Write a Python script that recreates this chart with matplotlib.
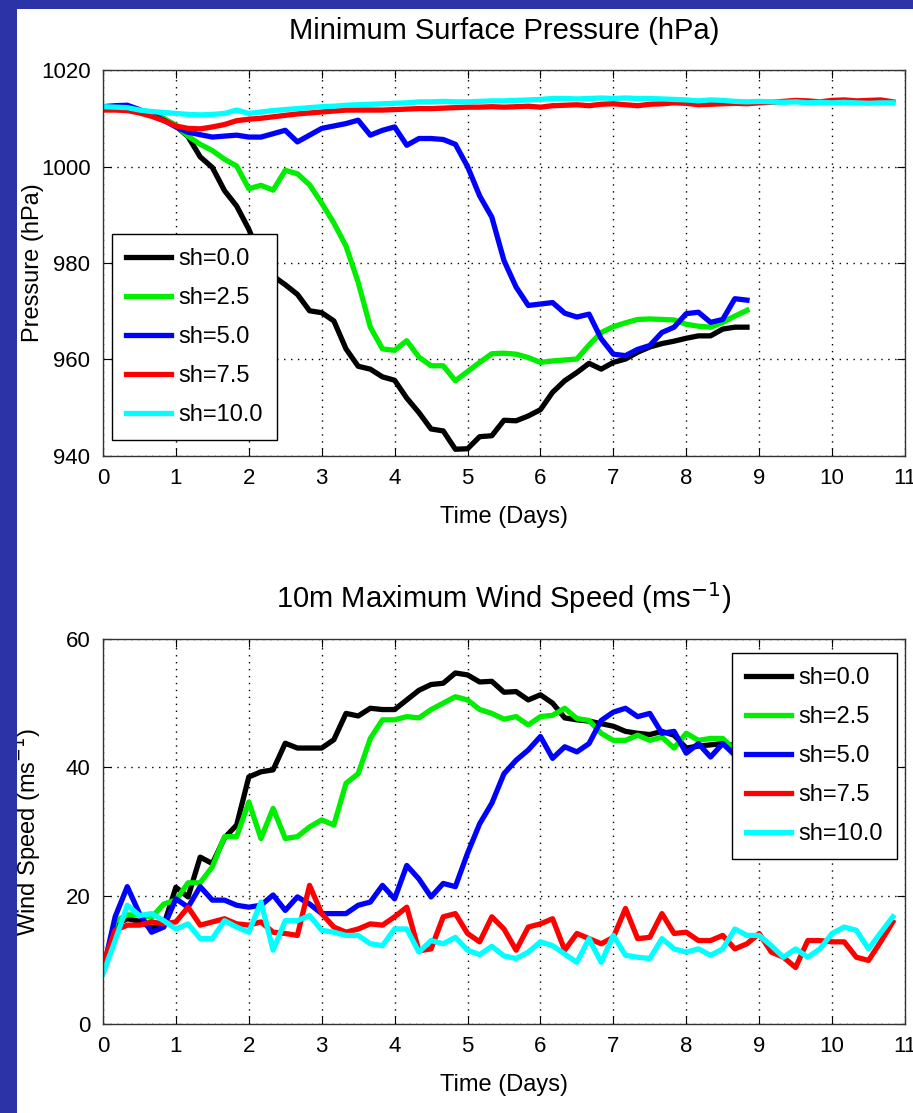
import matplotlib
matplotlib.use("Agg")
import matplotlib.pyplot as plt
import matplotlib.patches as patches
import numpy as np

plt.rcParams['font.family'] = ['Liberation Sans Narrow', 'Liberation Sans', 'DejaVu Sans']

# output every 4 hours (1/6 day)
STEP_DAYS = 1.0 / 6.0

labels = ["sh=0.0", "sh=2.5", "sh=5.0", "sh=7.5", "sh=10.0"]
colors = ["#000000", "#00ee00", "#0000ff", "#ff0000", "#00ffff"]

# minimum surface pressure (hPa)
p_sh00 = [1012, 1012, 1012, 1011.5, 1010.8, 1009.9, 1008.4, 1006.2, 1002, 999.8,
          995, 991.8, 987, 981, 977.3, 975.5, 973.5, 970.1, 969.7, 968,
          962.2, 958.6, 958, 956.4, 955.7, 952, 949, 945.6, 945.2, 941.4,
          941.5, 944, 944.2, 947.4, 947.3, 948.3, 949.6, 953.2, 955.6, 957.3,
          959.2, 958, 959.4, 960.1, 961.5, 962.6, 963.3, 963.8, 964.4, 964.9,
          964.9, 966.3, 966.7, 966.7]
p_sh25 = [1012, 1012, 1012, 1011.5, 1010.8, 1009.9, 1008.6, 1006.3, 1004.6, 1003.3,
          1001.5, 1000.1, 995.4, 996.1, 995.1, 999.2, 998.5, 996.2, 992.4, 988.3,
          983.5, 976, 966.7, 962.2, 961.9, 963.9, 960.5, 958.7, 958.7, 955.6,
          957.5, 959.4, 961.2, 961.3, 961.1, 960.4, 959.4, 959.7, 959.9, 960.1,
          963, 965.6, 966.8, 967.6, 968.3, 968.4, 968.3, 968.2, 967.3, 966.9,
          966.7, 967.7, 969, 970.2]
p_sh50 = [1012.4, 1012.6, 1012.7, 1011.8, 1010.7, 1009.6, 1008.2, 1007.1, 1006.6, 1006.1,
          1006.3, 1006.5, 1006.1, 1006.1, 1006.8, 1007.5, 1005.1, 1006.5, 1007.9, 1008.4,
          1008.9, 1009.6, 1006.5, 1007.5, 1008.2, 1004.4, 1005.8, 1005.8, 1005.6, 1004.6,
          1000, 993.9, 989.5, 980.5, 975, 971.2, 971.5, 971.8, 969.6, 968.8,
          969.4, 964.3, 961.1, 960.8, 962.1, 962.9, 965.6, 966.7, 969.5, 969.8,
          967.7, 968.3, 972.6, 972.3]
p_sh75 = [1011.7, 1011.7, 1011.6, 1011.1, 1010.4, 1009.5, 1008.4, 1007.9, 1007.8, 1008.2,
          1008.7, 1009.5, 1009.8, 1010, 1010.3, 1010.6, 1010.9, 1011.1, 1011.3, 1011.5,
          1011.7, 1011.7, 1011.7, 1011.7, 1011.8, 1011.9, 1012, 1012, 1012.1, 1012.2,
          1012.3, 1012.3, 1012.4, 1012.3, 1012.4, 1012.5, 1012.3, 1012.6, 1012.7, 1012.8,
          1012.6, 1012.9, 1013, 1012.8, 1012.6, 1012.9, 1013, 1013.2, 1013.1, 1012.8,
          1012.9, 1013, 1013.1, 1013, 1013.2, 1013.3, 1013.5, 1013.7, 1013.6, 1013.4,
          1013.7, 1013.8, 1013.6, 1013.7, 1013.8, 1013.4]
p_sh100 = [1012.4, 1012.3, 1012.2, 1011.7, 1011.4, 1011.2, 1011, 1010.8, 1010.7, 1010.8,
           1011, 1011.7, 1011, 1011.3, 1011.6, 1011.8, 1012, 1012.2, 1012.4, 1012.5,
           1012.7, 1012.8, 1012.9, 1013, 1013.1, 1013.2, 1013.4, 1013.4, 1013.5, 1013.4,
           1013.4, 1013.5, 1013.6, 1013.6, 1013.7, 1013.8, 1013.9, 1014.1, 1014.1, 1014,
           1014.1, 1014.2, 1014.1, 1014.2, 1014.1, 1014.1, 1014, 1013.9, 1013.8, 1013.6,
           1013.8, 1013.7, 1013.5, 1013.4, 1013.5, 1013.4, 1013.3, 1013.4, 1013.2, 1013.3,
           1013.2, 1013.3, 1013.2, 1013.1, 1013.2, 1013.2]

# 10 m maximum wind speed (m/s)
w_sh00 = [8.5, 15.4, 16.4, 16, 15, 15.4, 21.3, 19.8, 26, 25,
          29, 31, 38.5, 39.3, 39.6, 43.75, 43, 43, 43, 44.3,
          48.4, 48, 49.2, 49, 49, 50.5, 52, 52.9, 53.1, 54.7,
          54.4, 53.3, 53.4, 51.7, 51.8, 50.5, 51.3, 50, 47.7, 47.4,
          47.2, 46.8, 46.4, 45.6, 45.3, 45.1, 45.6, 45, 43, 43.3,
          43.5, 43.7, 43.4, 42.7]
w_sh25 = [8, 16, 17, 17, 16.6, 18.7, 19.3, 22, 22, 24.5,
          29.2, 29.2, 34.6, 28.9, 33.6, 28.9, 29.2, 30.7, 31.8, 31,
          37.5, 39, 44.5, 47.4, 47.4, 47.9, 47.7, 49, 50, 51,
          50.5, 49, 48.4, 47.5, 47.9, 46.6, 47.9, 48.1, 49.2, 47.6,
          47.3, 45.3, 44.2, 44.2, 45, 44.2, 44.7, 43, 45.3, 44.2,
          44.5, 44.5, 42.7, 41.1]
w_sh50 = [8.3, 16.7, 21.4, 17.2, 14.3, 15.1, 19.5, 18.2, 21.4, 19.3,
          19.3, 18.5, 18.2, 18.5, 20.1, 17.7, 19.8, 18.7, 17.2, 17.2,
          17.2, 18.5, 19, 21.6, 19.5, 24.7, 22.6, 19.8, 21.9, 21.4,
          26.6, 31.2, 34.4, 39, 41.1, 42.7, 44.8, 41.4, 43.2, 42.4,
          43.7, 47.3, 48.6, 49.2, 47.9, 48.4, 45.3, 45.6, 42.2, 43.7,
          41.6, 43.7, 41.9, 40]
w_sh75 = [9.4, 14.6, 15.4, 15.4, 15.9, 15.6, 15.9, 18.2, 15.4, 15.9,
          16.4, 15.6, 15.4, 15.9, 14.3, 14.1, 13.8, 21.6, 17.2, 15.1,
          14.3, 14.8, 15.6, 15.4, 16.7, 18.2, 11.4, 11.7, 16.7, 17.2,
          14.1, 12.8, 16.7, 14.8, 11.5, 15.1, 15.6, 16.4, 11.5, 14.1,
          13.3, 12.5, 13.5, 18, 13.3, 13.5, 17.2, 14.1, 14.3, 13,
          13, 13.8, 11.7, 12.5, 14.1, 11.2, 10.4, 8.8, 13, 13,
          12.8, 12.8, 10.4, 9.9, 12.8, 15.9]
w_sh100 = [7.8, 13, 18.5, 16.9, 17.2, 16.1, 14.8, 15.6, 13.3, 13.3,
           16.1, 15.1, 14.3, 19, 11.5, 16.1, 16.1, 16.9, 14.6, 14.3,
           13.8, 13.8, 12.5, 12.2, 14.8, 14.8, 11.2, 13, 12.5, 13.5,
           11.5, 10.8, 12.1, 10.6, 10.2, 11.2, 12.8, 12.2, 10.9, 9.6,
           13.3, 9.6, 13.8, 10.7, 10.4, 10.2, 13.3, 11.7, 11.2, 11.7,
           10.7, 11.7, 14.8, 13.8, 13.8, 12.2, 10.4, 11.7, 10.4, 11.7,
           14.1, 15.1, 14.6, 11.7, 14.2, 16.7]

x_ticks = list(range(0, 12))
p_ticks = [940, 960, 980, 1000, 1020]
w_ticks = [0, 20, 40, 60]

FS = 17
FS_TICK = 16
LW = 3.8
AZUL = "#2c33a6"


def _estilo(ax):
    ax.grid(True, color="black", linestyle=(0, (1, 4)), linewidth=1.0)
    ax.tick_params(direction="in", top=True, right=True, length=6,
                   labelsize=FS_TICK, pad=9)
    for s in ax.spines.values():
        s.set_linewidth(1.0)
        s.set_color("#333333")
    ax.set_xlim(0, 11)
    ax.set_xticks(x_ticks)
    ax.yaxis.set_label_coords(-0.074, 0.5)


def _legenda(ax, loc, anchor):
    leg = ax.legend(loc=loc, bbox_to_anchor=anchor, fontsize=FS,
                    fancybox=False, framealpha=1, edgecolor="black",
                    handlelength=1.9, handletextpad=0.3, labelspacing=0.72,
                    borderpad=0.6, borderaxespad=0)
    leg.get_frame().set_linewidth(1.0)


fig = plt.figure(figsize=(9.13, 11.13), dpi=100, facecolor="white")
# faixas azuis do fundo do slide
fig.patches.append(patches.Rectangle((0, 0), 17 / 913, 1, transform=fig.transFigure,
                                     facecolor=AZUL, edgecolor="none"))
fig.patches.append(patches.Rectangle((0, 1 - 9 / 1113), 1, 9 / 1113,
                                     transform=fig.transFigure,
                                     facecolor=AZUL, edgecolor="none"))

ax1 = fig.add_axes([0.1128, 0.5903, 0.8784, 0.3468])
ax2 = fig.add_axes([0.1128, 0.0800, 0.8784, 0.3459])

for vals, c, lab in zip([p_sh00, p_sh25, p_sh50, p_sh75, p_sh100], colors, labels):
    t = np.arange(len(vals)) * STEP_DAYS
    ax1.plot(t, vals, color=c, lw=LW, label=lab)
_estilo(ax1)
ax1.set_ylim(940, 1020)
ax1.set_yticks(p_ticks)
ax1.set_title("Minimum Surface Pressure (hPa)", fontsize=21, pad=22)
ax1.set_xlabel("Time (Days)", fontsize=FS, labelpad=12)
ax1.set_ylabel("Pressure (hPa)", fontsize=FS)
_legenda(ax1, "lower left", (0.011, 0.041))

for vals, c, lab in zip([w_sh00, w_sh25, w_sh50, w_sh75, w_sh100], colors, labels):
    t = np.arange(len(vals)) * STEP_DAYS
    ax2.plot(t, vals, color=c, lw=LW, label=lab)
_estilo(ax2)
ax2.set_ylim(0, 60)
ax2.set_yticks(w_ticks)
ax2.set_title("10m Maximum Wind Speed (ms$^{-1}$)", fontsize=21, pad=22)
ax2.set_xlabel("Time (Days)", fontsize=FS, labelpad=12)
ax2.set_ylabel("Wind Speed (ms$^{-1}$)", fontsize=FS)
_legenda(ax2, "upper right", (0.99, 0.964))

fig.savefig("out.png", dpi=100, facecolor=fig.get_facecolor())
